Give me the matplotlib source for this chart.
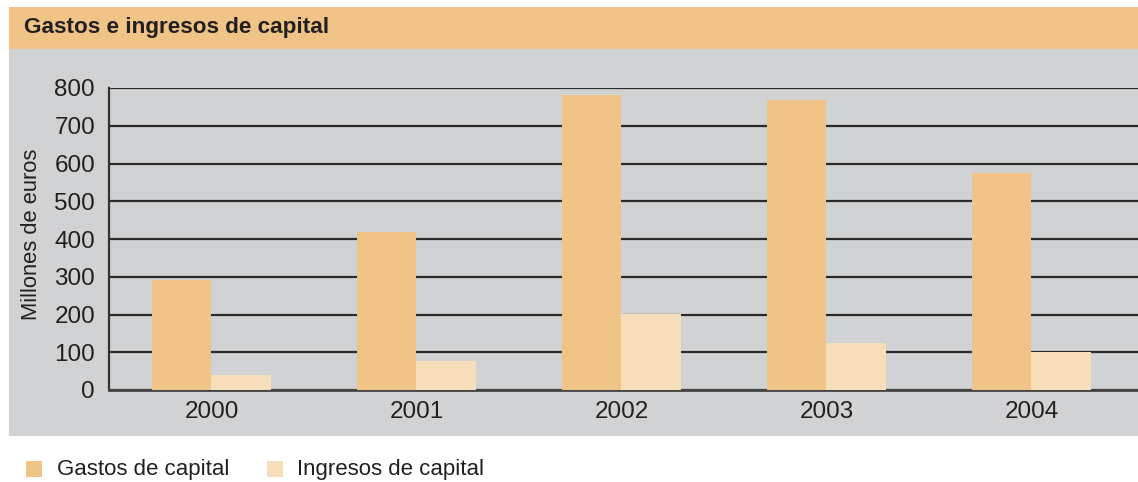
import matplotlib
matplotlib.use("Agg")
import matplotlib.pyplot as plt
from matplotlib.patches import Rectangle
import numpy as np

plt.rcParams['font.family'] = ['Liberation Sans', 'DejaVu Sans']

title = "Gastos e ingresos de capital"
years = ["2000", "2001", "2002", "2003", "2004"]
gastos = [291, 418, 781, 768, 575]
ingresos = [40, 77, 201, 124, 101]
series_names = ["Gastos de capital", "Ingresos de capital"]
yticks = [0, 100, 200, 300, 400, 500, 600, 700, 800]
ylabel = "Millones de euros"

c_gastos = "#F0C487"
c_ingresos = "#F6DEBB"
c_panel = "#D1D2D4"
c_header = "#F0C487"
c_text = "#231F20"

W, H = 1138, 482
fig = plt.figure(figsize=(W / 100, H / 100), dpi=100)
fig.patch.set_facecolor("white")

def fx(px):
    return px / W

def fy(py):
    return 1 - py / H

# header band
fig.add_artist(Rectangle((fx(9), fy(49)), 1 - fx(9), fy(7) - fy(49),
                         transform=fig.transFigure, facecolor=c_header,
                         edgecolor="none", zorder=0))
# gray panel
fig.add_artist(Rectangle((fx(9), fy(436)), 1 - fx(9), fy(49) - fy(436),
                         transform=fig.transFigure, facecolor=c_panel,
                         edgecolor="none", zorder=0))
fig.text(fx(24), fy(28), title, fontsize=16.2, fontweight="bold",
         color=c_text, va="center", ha="left")

ax = fig.add_axes([fx(109), fy(390), 1 - fx(109), fy(88) - fy(390)])
ax.set_facecolor(c_panel)

x = np.arange(len(years))
bw = 0.29
ax.bar(x - bw / 2, gastos, width=bw, color=c_gastos, zorder=3, linewidth=0)
ax.bar(x + bw / 2, ingresos, width=bw, color=c_ingresos, zorder=3, linewidth=0)

ax.set_ylim(0, 800)
ax.set_xlim(-0.5, 4.52)
ax.set_yticks(yticks)
ax.set_yticklabels([str(v) for v in yticks])
ax.set_xticks(x)
ax.set_xticklabels(years)
ax.tick_params(axis="both", length=0, labelsize=17.5, colors=c_text)
ax.tick_params(axis="y", pad=10)
ax.tick_params(axis="x", pad=8)
ax.yaxis.grid(True, color="#2a2a2a", linewidth=1.6, zorder=1)
ax.set_axisbelow(True)
for s in ["top", "right"]:
    ax.spines[s].set_visible(False)
ax.spines["left"].set_color("#333333")
ax.spines["left"].set_linewidth(1.6)
ax.spines["bottom"].set_color("#444444")
ax.spines["bottom"].set_linewidth(2)

fig.text(fx(32), fy(234), ylabel, fontsize=15.8, color=c_text,
         rotation=90, va="center", ha="center")

# legend
for xs, xt, name, col in [(26, 57, series_names[0], c_gastos),
                          (267, 297, series_names[1], c_ingresos)]:
    fig.add_artist(Rectangle((fx(xs), fy(477)), fx(16), fy(461) - fy(477),
                             transform=fig.transFigure, facecolor=col,
                             edgecolor="none"))
    fig.text(fx(xt), fy(469), name, fontsize=16, color=c_text,
             va="center", ha="left")

fig.savefig("out.png", dpi=100, facecolor=fig.get_facecolor())
